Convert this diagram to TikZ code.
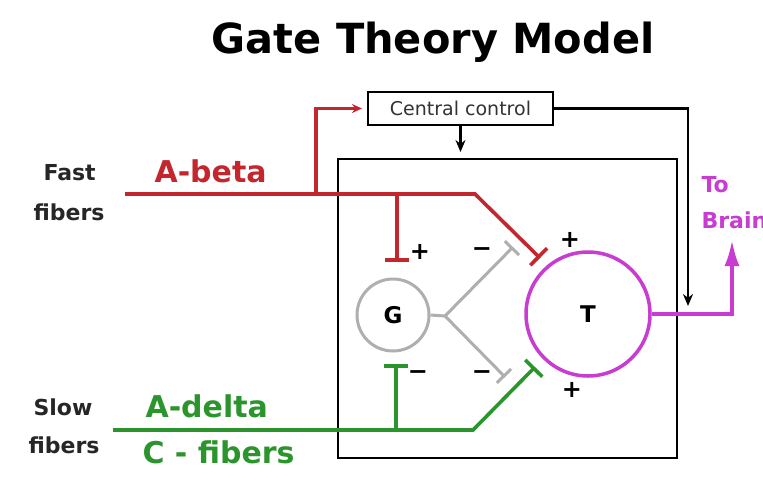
\documentclass[tikz,border=0pt]{standalone}
\usepackage{fontspec}
\setmainfont{DejaVu Sans}
\usetikzlibrary{arrows.meta}
\definecolor{fred}{RGB}{196,38,46}
\definecolor{fgreen}{RGB}{44,148,44}
\definecolor{fpurple}{RGB}{200,60,210}
\definecolor{fgray}{RGB}{175,175,175}
\begin{document}
\begin{tikzpicture}[x=1pt,y=-1pt,
  redline/.style={draw=fred,line width=3.6pt},
  greenline/.style={draw=fgreen,line width=3.6pt},
  grayline/.style={draw=fgray,line width=3pt},
  blkline/.style={draw=black,line width=2.2pt},
  bartip/.style={-{Bar[width=24pt]}},
  sign/.style={font=\bfseries\fontsize{24}{26}\selectfont},
  lab/.style={font=\bfseries\fontsize{22}{24}\selectfont,anchor=base west},
  fiblab/.style={font=\bfseries\fontsize{30}{34}\selectfont,anchor=base west}]
\useasboundingbox (0,0) rectangle (763,480);
\fill[white] (0,0) rectangle (763,480);

\node[font=\bfseries\fontsize{41.5}{48}\selectfont] (title) at (433,42) {Gate Theory Model};

\node[draw,line width=2pt,minimum width=185pt,minimum height=33pt,inner sep=0pt,
  font=\fontsize{19}{22}\selectfont,text=black!80] (cc) at (460.5,108.5) {Central control};
\node[draw,line width=2pt,minimum width=339pt,minimum height=299pt,inner sep=0pt] (box) at (507.5,308.5) {};

\node[circle,draw=fgray,line width=3pt,minimum size=72pt,inner sep=0pt,
  font=\bfseries\fontsize{23}{25}\selectfont] (G) at (393,315) {G};
\node[circle,draw=fpurple,line width=3.5pt,minimum size=124pt,inner sep=0pt,
  font=\bfseries\fontsize{23}{25}\selectfont] (T) at (588,314) {T};

% fast fibers
\coordinate (fa) at (125,194);
\coordinate (fb) at (316,194);
\coordinate (fc) at (397,194);
\coordinate (fd) at (475,194);
\coordinate (fe) at (540,258);
\coordinate (fg) at (397,262);
\draw[redline,bartip] (fa) -- (fd) -- (fe);
\draw[redline,bartip] (fc) -- (fg);
\draw[redline,-{Stealth[length=10pt,width=9pt]},shorten >=5pt] (fb) |- (cc.west);

% gray from G
\coordinate (gj) at (445,316);
\coordinate (gu) at (513,247);
\coordinate (gl) at (505,377);
\draw[grayline] (G.east) -- (gj);
\draw[grayline,-{Bar[width=20pt]}] (gj) -- (gu);
\draw[grayline,-{Bar[width=20pt]}] (gj) -- (gl);

% slow fibers
\coordinate (sa) at (113,430);
\coordinate (sb) at (396,430);
\coordinate (sc) at (473,430);
\coordinate (sd) at (535,367);
\coordinate (sg) at (396,364);
\draw[greenline,bartip] (sa) -- (sc) -- (sd);
\draw[greenline,bartip] (sb) -- (sg);

% central control outputs
\draw[blkline,-{Stealth[length=12pt,width=10pt]},shorten >=6pt] (cc.south) -- (cc.south |- box.north);
\coordinate (pb) at (688,314);
\draw[blkline,-{Stealth[length=12pt,width=10pt]},shorten >=8pt] (cc.east) -| (pb);

% to brain
\coordinate (tip) at (732,240);
\draw[draw=fpurple,line width=3.6pt,-{Latex[length=26pt,width=15pt]}] (T.east) -| (tip);

% signs
\node[sign] (s1) at (420,252) {+};
\node[sign] (s2) at (482,252) {−};
\node[sign] (s3) at (570,240) {+};
\node[sign] (s4) at (418,375) {−};
\node[sign] (s5) at (482,375) {−};
\node[sign] (s6) at (572,390) {+};

% labels
\node[lab,text=black!85] (fast) at (40,180) {Fast};
\node[lab,text=black!85] (fastf) at (30,220) {fibers};
\node[lab,text=black!85] (slow) at (30,415) {Slow};
\node[lab,text=black!85] (slowf) at (25,453) {fibers};
\node[fiblab,text=fred] (abeta) at (151,182) {A-beta};
\node[fiblab,text=fgreen] (adelta) at (142,417) {A-delta};
\node[fiblab,text=fgreen] (cfib) at (139,463) {C - fibers};
\node[lab,text=fpurple] (to) at (698,192) {To};
\node[lab,text=fpurple] (brain) at (698,228) {Brain};
\end{tikzpicture}
\end{document}
